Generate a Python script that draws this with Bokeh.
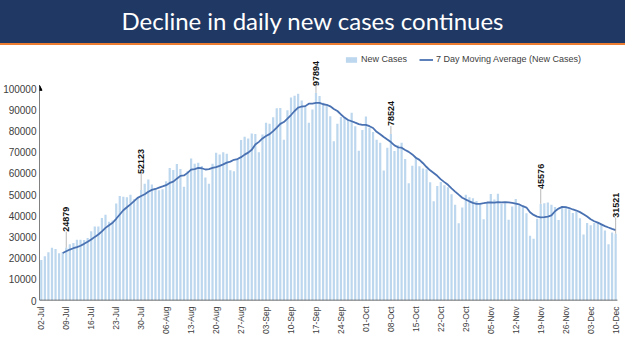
import math
import numpy as np
import pandas as pd
from bokeh.plotting import figure
from bokeh.layouts import column
from bokeh.models import (ColumnDataSource, FixedTicker, Arrow, NormalHead, Legend,
                          LegendItem, Range1d, LabelSet, NumeralTickFormatter, Div)
from bokeh.core.properties import value
from bokeh.embed import file_html
from bokeh.resources import INLINE

title_text = "Decline in daily new cases continues"
series_bar_name = "New Cases"
series_line_name = "7 Day Moving Average (New Cases)"

# daily new cases, 02-Jul .. 10-Dec
cases_jul = [19148, 20903, 22771, 24850, 24248, 22252, 22752, 24879, 26506, 27114,
             28637, 28701, 28498, 29429, 32695, 34956, 34884, 38902, 40425, 37148,
             37724, 45720, 49310, 48916, 48661, 49931, 47703, 48513, 52123, 55079]
cases_aug = [57118, 54735, 52972, 52050, 52509, 56282, 62538, 61537, 64399, 62064,
             53601, 60963, 66999, 64553, 65002, 63490, 57982, 55079, 64531, 69652,
             68898, 69878, 69239, 61408, 60975, 67151, 75760, 77266, 76472, 78761, 78512]
cases_sep = [69921, 78357, 83883, 83341, 86432, 90632, 90802, 75809, 89706, 95735,
             96551, 97570, 94372, 92071, 83809, 90123, 97894, 96424, 93337, 92605,
             86961, 75083, 83347, 86508, 86052, 85362, 88600, 82170, 70589, 80472]
cases_oct = [86821, 81484, 79476, 75829, 74442, 61267, 72049, 78524, 70496, 73272,
             74383, 66732, 55342, 63509, 67708, 63371, 62212, 61871, 55722, 46790,
             54044, 55839, 54366, 53370, 50129, 45148, 36469, 43893, 49881, 48648, 48268]
cases_nov = [46963, 45231, 38310, 46253, 50209, 47638, 50357, 45674, 45903, 38073,
             44281, 47905, 44879, 44684, 41100, 30548, 29163, 38617, 45576, 45882,
             46232, 45209, 44059, 37975, 44376, 44489, 43082, 41322, 41810, 38772]
cases_dec = [31118, 36604, 35551, 36595, 36652, 36011, 32981, 26567, 32080, 31521]

new_cases = cases_jul + cases_aug + cases_sep + cases_oct + cases_nov + cases_dec
dates = pd.date_range("2020-07-02", periods=len(new_cases), freq="D")
day_labels = [d.strftime("%d-%b") for d in dates]

tick_labels = ["02-Jul", "09-Jul", "16-Jul", "23-Jul", "30-Jul", "06-Aug", "13-Aug",
               "20-Aug", "27-Aug", "03-Sep", "10-Sep", "17-Sep", "24-Sep", "01-Oct",
               "08-Oct", "15-Oct", "22-Oct", "29-Oct", "05-Nov", "12-Nov", "19-Nov",
               "26-Nov", "03-Dec", "10-Dec"]
labelled_days = ["09-Jul", "30-Jul", "17-Sep", "08-Oct", "19-Nov", "10-Dec"]
label_gap_px = [16, 16, 7, 8, 15, 16]

y_ticks = list(range(0, 100001, 10000))

# ---------------------------------------------------------------------------
FONT = "Liberation Sans"
n = len(new_cases)
x_idx = list(range(n))
ma = pd.Series(new_cases, dtype=float).rolling(7).mean()

src = ColumnDataSource(dict(x=x_idx, cases=new_cases, lbl=day_labels))
ma_src = ColumnDataSource(dict(x=x_idx[6:], ma=list(ma[6:])))

W, H_BANNER = 625, 45
H_CHART = 306
frame_top_pad, frame_bottom_pad = 5, 51
frame_h = H_CHART - frame_top_pad - frame_bottom_pad
y_end = frame_h / 212.0 * 100000
px_to_data = y_end / frame_h

# banner
banner = Div(text=title_text, width=W, height=H_BANNER,
             styles={"background-color": "#1F3864", "color": "white",
                     "font-family": "Lato", "font-size": "24px",
                     "text-align": "center", "line-height": "42px",
                     "border-bottom": "2px solid #ED7D31", "box-sizing": "border-box",
                     "margin": "0", "padding": "0", "overflow": "hidden"})

# chart
p = figure(width=W, height=H_CHART, x_range=Range1d(-0.5, n - 0.5 + 1.7),
           y_range=Range1d(0, y_end), toolbar_location=None, output_backend="svg",
           min_border_left=38, min_border_right=2, min_border_top=frame_top_pad,
           min_border_bottom=frame_bottom_pad)
p.outline_line_color = None
p.grid.visible = False

bars = p.vbar(x="x", top="cases", width=0.62, source=src, fill_color="#BDD7EE",
              line_color=None)
line = p.line(x="x", y="ma", source=ma_src, line_color="#4A72B2", line_width=1.8)

# data labels
lx, ly0, ly1, ltxt = [], [], [], []
for d, g in zip(labelled_days, label_gap_px):
    i = day_labels.index(d)
    lx.append(i)
    ly0.append(new_cases[i])
    ly1.append(new_cases[i] + g * px_to_data)
    ltxt.append(str(new_cases[i]))
lsrc = ColumnDataSource(dict(x=lx, y0=ly0, y1=ly1, t=ltxt))
p.segment(x0="x", y0="y0", x1="x", y1="y1", source=lsrc, line_color="#A6A6A6",
          line_width=0.8)
p.add_layout(LabelSet(x="x", y="y1", text="t", source=lsrc, angle=math.pi / 2,
                      text_align="left", text_baseline="middle",
                      text_font=value(FONT), text_font_size="9px",
                      text_font_style="bold", text_color="#111111"))

# axes
p.yaxis.ticker = FixedTicker(ticks=y_ticks)
p.yaxis.formatter = NumeralTickFormatter(format="0")
p.yaxis.axis_line_color = None
p.yaxis.major_tick_line_color = None
p.yaxis.minor_tick_line_color = None
p.yaxis.major_tick_out = 0
p.yaxis.major_tick_in = 0
p.yaxis.minor_tick_out = 0
p.yaxis.major_label_standoff = 3
p.yaxis.major_label_text_font = FONT
p.yaxis.major_label_text_font_size = "10px"
p.yaxis.major_label_text_color = "#404040"

tick_pos = [day_labels.index(t) for t in tick_labels]
p.xaxis.ticker = FixedTicker(ticks=tick_pos)
p.xaxis.major_label_overrides = {i: t for i, t in zip(tick_pos, tick_labels)}
p.xaxis.major_label_orientation = math.pi / 2
p.xaxis.axis_line_color = None
p.xaxis.major_tick_line_color = None
p.xaxis.minor_tick_line_color = None
p.xaxis.major_tick_out = 0
p.xaxis.major_tick_in = 0
p.xaxis.minor_tick_out = 0
p.xaxis.major_label_standoff = 6
p.xaxis.major_label_text_font = FONT
p.xaxis.major_label_text_font_size = "8.5px"
p.xaxis.major_label_text_color = "#404040"

# axis lines
p.add_layout(Arrow(end=None, x_start=-0.5, y_start=0, x_end=n - 0.5, y_end=0,
                   line_color="#404040", line_width=1.5))
p.add_layout(Arrow(end=NormalHead(size=5, fill_color="black", line_color="black"),
                   x_start=-0.5, y_start=0, x_end=-0.5, y_end=101500,
                   line_color="black", line_width=1))

legend = Legend(items=[LegendItem(label=series_bar_name, renderers=[bars]),
                       LegendItem(label=series_line_name, renderers=[line])],
                orientation="horizontal", location=(305, 236), border_line_color=None,
                background_fill_alpha=0, padding=0, margin=0, spacing=12,
                glyph_width=14, glyph_height=7, label_height=10, label_standoff=3,
                label_text_font=FONT, label_text_font_size="9px",
                label_text_color="#404040", label_text_baseline="middle")
p.add_layout(legend)

layout = column(banner, p, spacing=0)
open("out.html", "w").write(file_html(layout, INLINE))
